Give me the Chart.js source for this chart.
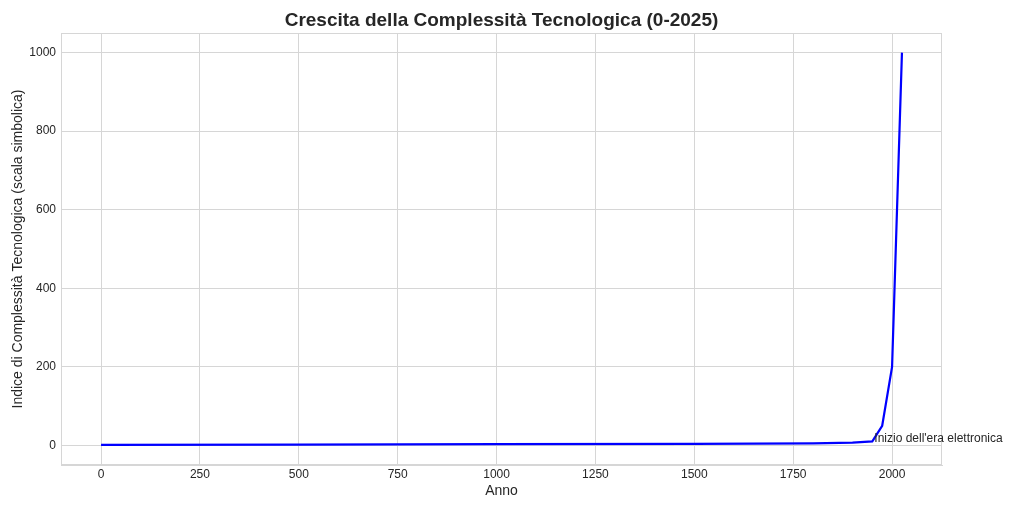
<!DOCTYPE html>
<html>
<head>
<meta charset="utf-8">
<script src="https://cdn.jsdelivr.net/npm/chart.js@4"></script>
<style>
  html, body { margin: 0; padding: 0; background: #fff; }
  #wrap { width: 1024px; height: 512px; }
</style>
</head>
<body>
<div id="wrap"><canvas id="techChart" width="1024" height="512"></canvas></div>
<script>
// Dati
const anni = [0, 500, 1000, 1500, 1800, 1900, 1950, 1975, 2000, 2025];
const complessita = [1, 2, 3, 4, 5, 7, 10, 50, 200, 1000];
const xTicks = [0, 250, 500, 750, 1000, 1250, 1500, 1750, 2000];
const yTicks = [0, 200, 400, 600, 800, 1000];
const nota = { testo: "Inizio dell'era elettronica", anno: 1950, valore: 10 };

const GRID = '#d6d6d6';
const TEXT = '#262626';
const FONT = "'Liberation Sans', Arial, sans-serif";

// Cornice del grafico (anche a destra e in alto)
const bordoPlugin = {
  id: 'bordo',
  afterDraw(chart) {
    const { ctx, chartArea } = chart;
    ctx.save();
    ctx.strokeStyle = GRID;
    ctx.lineWidth = 1;
    ctx.strokeRect(chartArea.left + 0.5, chartArea.top + 0.5,
      chartArea.right - chartArea.left - 1, chartArea.bottom - chartArea.top - 1);
    ctx.restore();
  },
};

// Annotazione come in matplotlib
const notaPlugin = {
  id: 'nota',
  afterDraw(chart) {
    const { ctx, scales } = chart;
    const x = scales.x.getPixelForValue(nota.anno);
    const y = scales.y.getPixelForValue(nota.valore);
    ctx.save();
    ctx.font = '12px ' + FONT;
    ctx.fillStyle = TEXT;
    ctx.textAlign = 'left';
    ctx.textBaseline = 'alphabetic';
    ctx.fillText(nota.testo, x + 2, y + 1);
    ctx.restore();
  },
};

const config = {
  type: 'line',
  data: {
    datasets: [
      {
        data: anni.map((a, i) => ({ x: a, y: complessita[i] })),
        borderColor: '#0000ff',
        borderWidth: 2.2,
        pointRadius: 0,
        tension: 0,
        fill: false,
      },
    ],
  },
  options: {
    responsive: false,
    animation: false,
    layout: { padding: { left: 0, right: 82, top: 0, bottom: 0 } },
    plugins: {
      legend: { display: false },
      tooltip: { enabled: false },
      title: {
        display: true,
        fullSize: false,
        text: 'Crescita della Complessità Tecnologica (0-2025)',
        color: TEXT,
        font: { family: FONT, size: 19, weight: 'bold' },
        padding: { top: 9.4, bottom: 0.8 },
      },
    },
    scales: {
      x: {
        type: 'linear',
        min: -101.25,
        max: 2126.25,
        afterBuildTicks(scale) {
          scale.ticks = xTicks.map((v) => ({ value: v }));
        },
        afterFit(scale) {
          scale.height = 47;
        },
        grid: { color: GRID, drawTicks: false },
        border: { display: true, color: GRID, width: 1 },
        ticks: {
          color: TEXT,
          font: { family: FONT, size: 12 },
          padding: 2,
          maxRotation: 0,
          callback: (v) => String(v),
        },
        title: {
          display: true,
          text: 'Anno',
          color: TEXT,
          font: { family: FONT, size: 14 },
          padding: { top: 0, bottom: 12.6 },
        },
      },
      y: {
        type: 'linear',
        min: -50,
        max: 1050,
        afterBuildTicks(scale) {
          scale.ticks = yTicks.map((v) => ({ value: v }));
        },
        afterFit(scale) {
          scale.width = 61;
        },
        grid: { color: GRID, drawTicks: false },
        border: { display: true, color: GRID, width: 1 },
        ticks: {
          color: TEXT,
          font: { family: FONT, size: 12 },
          padding: 5,
          callback: (v) => String(v),
        },
        title: {
          display: true,
          text: 'Indice di Complessità Tecnologica (scala simbolica)',
          color: TEXT,
          font: { family: FONT, size: 14 },
          padding: { top: 9.6, bottom: 0 },
        },
      },
    },
  },
  plugins: [bordoPlugin, notaPlugin],
};

const techChart = new Chart(document.getElementById('techChart'), config);
</script>
</body>
</html>
